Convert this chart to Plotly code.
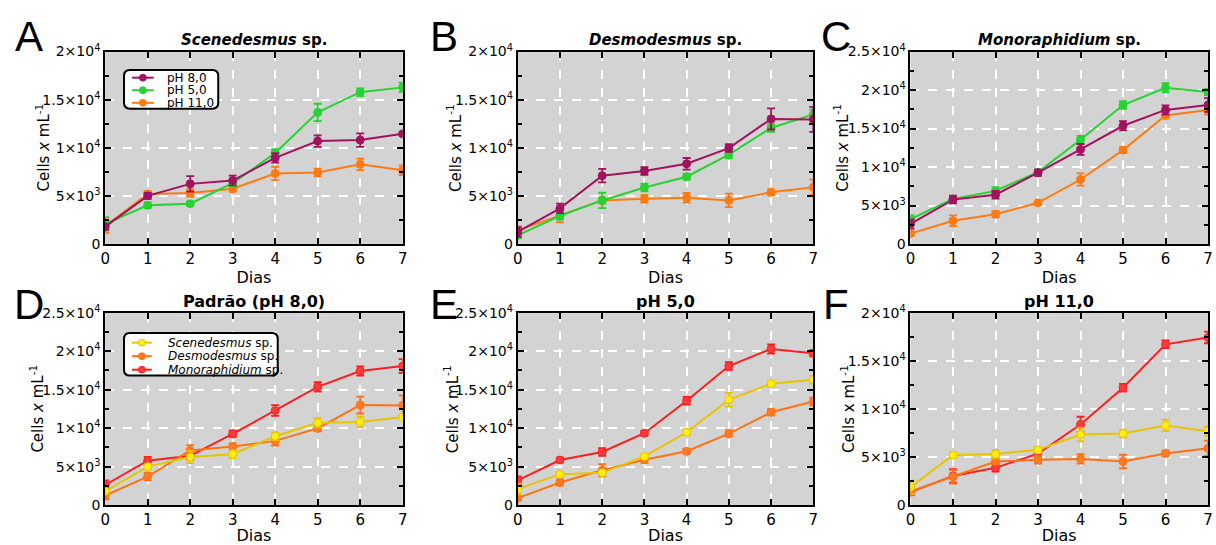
import plotly.graph_objects as go

# ---------------- data ----------------
days = [0, 1, 2, 3, 4, 5, 6, 7]

# Scenedesmus sp.
scen_ph8 = [1800, 5000, 6250, 6600, 8950, 10700, 10800, 11450]
scen_ph8_err = [300, 300, 800, 500, 500, 600, 700, 200]
scen_ph5 = [2100, 4020, 4190, 6320, 9460, 13680, 15780, 16280]
scen_ph5_err = [700, 300, 200, 300, 400, 900, 400, 500]
scen_ph11 = [1860, 5200, 5300, 5740, 7330, 7430, 8280, 7670]
scen_ph11_err = [700, 300, 400, 300, 700, 400, 600, 500]

# Desmodesmus sp.
desm_ph8 = [1250, 3700, 7100, 7600, 8340, 9970, 13000, 12950]
desm_ph8_err = [500, 500, 700, 400, 600, 400, 1100, 1300]
desm_ph5 = [900, 2940, 4530, 5880, 6990, 9290, 12060, 13470]
desm_ph5_err = [300, 400, 800, 400, 300, 400, 400, 500]
desm_ph11 = [1420, 2940, 4530, 4700, 4800, 4530, 5370, 5900]
desm_ph11_err = [400, 700, 300, 400, 500, 700, 300, 800]

# Monoraphidium sp.
mono_ph8 = [2610, 5770, 6400, 9260, 12290, 15360, 17420, 18060]
mono_ph8_err = [600, 500, 500, 400, 700, 600, 600, 900]
mono_ph5 = [3220, 5850, 6900, 9340, 13550, 18060, 20290, 19740]
mono_ph5_err = [500, 300, 500, 300, 500, 500, 600, 400]
mono_ph11 = [1350, 3030, 3870, 5350, 8380, 12200, 16710, 17420]
mono_ph11_err = [300, 700, 400, 300, 800, 400, 400, 600]

ph_names = ["pH 8,0", "pH 5,0", "pH 11,0"]
species_names = ["Scenedesmus", "Desmodesmus", "Monoraphidium"]
panel_letters = ["A", "B", "C", "D", "E", "F"]
panel_titles = ["<i>Scenedesmus</i> sp.", "<i>Desmodesmus</i> sp.", "<i>Monoraphidium</i> sp.",
                "Padrão (pH 8,0)", "pH 5,0", "pH 11,0"]
y_max = [20000, 20000, 25000, 25000, 25000, 20000]
y_tickvals = [0, 5000, 10000, 15000, 20000, 25000]
y_ticktext = ["0", "5×10<sup>3</sup>", "1×10<sup>4</sup>", "1.5×10<sup>4</sup>",
              "2×10<sup>4</sup>", "2.5×10<sup>4</sup>"]

ph_colors = ["#A3125E", "#27D233", "#FF7A12"]
sp_line_colors = ["#E8C400", "#FF7214", "#FF1E1E"]
sp_marker_colors = ["#FFEE10", "#FF7A20", "#FF3A3A"]

W, H = 1216, 545


def px(x):
    return x / W


def py(y):
    return 1 - y / H


# plot-area pixel boxes (left, right, top, bottom)
boxes = [(101, 401, 43, 242), (517, 815, 43, 242), (913, 1213, 43, 242),
         (101, 401, 313, 512), (517, 815, 313, 512), (913, 1213, 313, 512)]

panels = [
    # top row: one species, three pH
    [(scen_ph8, scen_ph8_err), (scen_ph5, scen_ph5_err), (scen_ph11, scen_ph11_err)],
    [(desm_ph8, desm_ph8_err), (desm_ph5, desm_ph5_err), (desm_ph11, desm_ph11_err)],
    [(mono_ph8, mono_ph8_err), (mono_ph5, mono_ph5_err), (mono_ph11, mono_ph11_err)],
    # bottom row: one pH, three species
    [(scen_ph8, scen_ph8_err), (desm_ph8, desm_ph8_err), (mono_ph8, mono_ph8_err)],
    [(scen_ph5, scen_ph5_err), (desm_ph5, desm_ph5_err), (mono_ph5, mono_ph5_err)],
    [(scen_ph11, scen_ph11_err), (desm_ph11, desm_ph11_err), (mono_ph11, mono_ph11_err)],
]

FONT = "DejaVu Sans"
fig = go.Figure()
layout = dict(
    width=W, height=H, margin=dict(l=0, r=0, t=0, b=0),
    paper_bgcolor="white", plot_bgcolor="#D3D3D3", showlegend=False,
    font=dict(family=FONT, color="black"),
)
annotations = []
shapes = []

for i in range(6):
    n = "" if i == 0 else str(i + 1)
    xa, ya = "x" + n, "y" + n
    l, r, t, b = boxes[i]
    top = i < 3
    for k in [2, 1, 0]:
        vals, errs = panels[i][k]
        lc = ph_colors[k] if top else sp_line_colors[k]
        mc = ph_colors[k] if top else sp_marker_colors[k]
        fig.add_trace(go.Scatter(
            x=days, y=vals, xaxis=xa, yaxis=ya, mode="lines+markers",
            name=ph_names[k] if top else species_names[k],
            line=dict(color=lc, width=2),
            marker=dict(size=8, color=mc, line=dict(color=lc, width=1)),
            error_y=dict(type="data", array=errs, visible=True, color=lc,
                         thickness=1.8, width=4),
        ))
    layout["xaxis" + n] = dict(
        domain=[px(l), px(r)], anchor=ya, range=[0, 7], tickvals=days,
        ticks="inside", ticklen=6, tickwidth=2, tickcolor="black",
        showline=True, linewidth=2, linecolor="black", mirror="ticks",
        showgrid=True, gridcolor="white", griddash="dash", gridwidth=1.5,
        zeroline=False, tickfont=dict(size=15),
        title=dict(text="Dias", font=dict(size=16), standoff=0),
    )
    ymx = y_max[i]
    tv = [v for v in y_tickvals if v <= ymx]
    tt = [y_ticktext[j] for j, v in enumerate(y_tickvals) if v <= ymx]
    layout["yaxis" + n] = dict(
        domain=[py(b), py(t)], anchor=xa, range=[0, ymx],
        tickvals=tv, ticktext=tt,
        ticks="inside", ticklen=6, tickwidth=2, tickcolor="black",
        minor=dict(dtick=2500, ticks="inside", ticklen=4, tickwidth=1.5,
                   tickcolor="black", showgrid=False),
        showline=True, linewidth=2, linecolor="black", mirror="ticks",
        showgrid=True, gridcolor="white", griddash="dash", gridwidth=1.5,
        zeroline=False, tickfont=dict(size=14),
    )
    # panel title
    annotations.append(dict(text=panel_titles[i], xref="paper", yref="paper",
                            x=px((l + r) / 2), y=py(t - 12), showarrow=False,
                            xanchor="center", yanchor="middle",
                            font=dict(size=15 if top else 16, family=FONT, color="black",
                                      weight="bold")))
    # panel letter
    lx = [24, 443, 838, 24, 443, 838][i]
    ly = 27 if top else 305
    annotations.append(dict(text=panel_letters[i], xref="paper", yref="paper",
                            x=px(lx), y=py(ly), showarrow=False,
                            xanchor="center", yanchor="middle",
                            font=dict(size=42, family="Liberation Sans", color="black")))
    # y-axis title
    ytx = [38, 453, 843, 32, 450, 850][i]
    xtxt = "x" if i == 5 else "<i>x</i>"
    annotations.append(dict(text="Cells " + xtxt + " mL<sup>-1</sup>", xref="paper", yref="paper",
                            x=px(ytx), y=py((t + b) / 2), showarrow=False, textangle=-90,
                            xanchor="center", yanchor="middle",
                            font=dict(size=15, family=FONT, color="black")))


# ---------------- manual legends ----------------
def rounded_rect(x0, y0, x1, y1, rr):
    X = lambda v: px(v)
    Y = lambda v: py(v)
    return (f"M {X(x0 + rr)} {Y(y0)} L {X(x1 - rr)} {Y(y0)} Q {X(x1)} {Y(y0)} {X(x1)} {Y(y0 + rr)} "
            f"L {X(x1)} {Y(y1 - rr)} Q {X(x1)} {Y(y1)} {X(x1 - rr)} {Y(y1)} "
            f"L {X(x0 + rr)} {Y(y1)} Q {X(x0)} {Y(y1)} {X(x0)} {Y(y1 - rr)} "
            f"L {X(x0)} {Y(y0 + rr)} Q {X(x0)} {Y(y0)} {X(x0 + rr)} {Y(y0)} Z")


legend_specs = [
    dict(box=(120, 62, 215, 102), rows=[70, 83, 96], line=(128, 150), tx=161,
         labels=ph_names, colors=ph_colors, mcolors=ph_colors),
    dict(box=(120, 334, 275, 378), rows=[344, 358, 372], line=(128, 148), tx=162,
         labels=["<i>" + s + "</i> sp." for s in species_names],
         colors=sp_line_colors, mcolors=sp_marker_colors),
]
for spec in legend_specs:
    x0, y0, x1, y1 = spec["box"]
    shapes.append(dict(type="path", xref="paper", yref="paper",
                       path=rounded_rect(x0, y0, x1, y1, 6),
                       fillcolor="white", line=dict(color="black", width=2), layer="above"))
    la, lb = spec["line"]
    for k in range(3):
        ry = spec["rows"][k]
        shapes.append(dict(type="line", xref="paper", yref="paper",
                           x0=px(la), x1=px(lb), y0=py(ry), y1=py(ry),
                           line=dict(color=spec["colors"][k], width=2), layer="above"))
        cx = (la + lb) / 2
        shapes.append(dict(type="circle", xref="paper", yref="paper",
                           x0=px(cx - 3.5), x1=px(cx + 3.5), y0=py(ry + 3.5), y1=py(ry - 3.5),
                           fillcolor=spec["mcolors"][k], line=dict(color=spec["colors"][k], width=1),
                           layer="above"))
        annotations.append(dict(text=spec["labels"][k], xref="paper", yref="paper",
                                x=px(spec["tx"]), y=py(ry), showarrow=False,
                                xanchor="left", yanchor="middle",
                                font=dict(size=12, family=FONT, color="black")))

layout["annotations"] = annotations
layout["shapes"] = shapes
fig.update_layout(**layout)
fig.write_html("out.html")
